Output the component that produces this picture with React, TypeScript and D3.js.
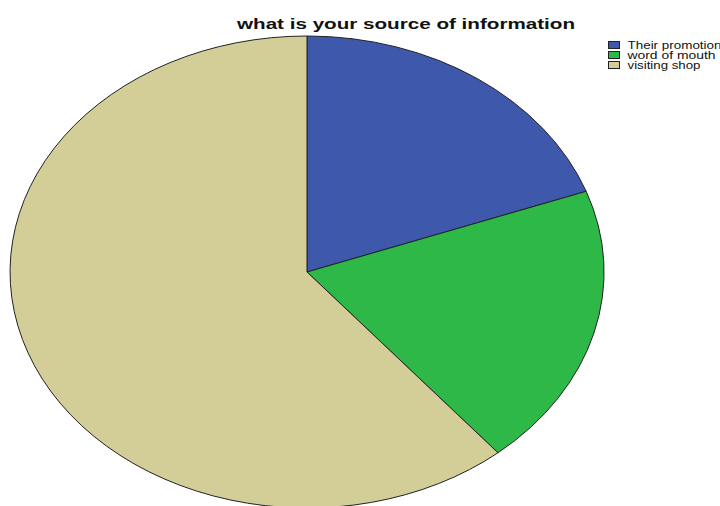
import React from "react";
import * as d3 from "d3";

const categories = ["Their promotion", "word of mouth", "visiting shop"];
const values = [7, 7, 22];
const colors = ["#3E58AC", "#2EB848", "#D3CE97"];
const title = "what is your source of information";

export default function App() {
  const W = 720, H = 506;
  const cx = 307, cy = 272, rx = 297, ry = 236;
  const pie = d3.pie<number>().sort(null).value((d) => d).startAngle(0).endAngle(2 * Math.PI);
  const arcs = pie(values);
  const arc = d3.arc<d3.PieArcDatum<number>>().innerRadius(0).outerRadius(1);
  const legendWidths = [94, 88, 73];
  return (
    <svg width={W} height={H} style={{ position: "absolute", left: 0, top: 0, background: "#fff" }}>
      <g transform={`translate(${cx},${cy}) scale(${rx},${ry})`}>
        {arcs.map((a, i) => (
          <path
            key={i}
            d={arc(a) || ""}
            fill={colors[i]}
            stroke="#222"
            strokeWidth={1}
            vectorEffect="non-scaling-stroke"
            strokeLinejoin="round"
          />
        ))}
      </g>
      <text
        x={237}
        y={29}
        fontFamily="Liberation Sans, Arial, sans-serif"
        fontWeight="bold"
        fontSize={15}
        textLength={338}
        lengthAdjust="spacingAndGlyphs"
        fill="#111"
      >
        {title}
      </text>
      {categories.map((c, i) => (
        <g key={c} transform={`translate(608.5,${41.5 + i * 10})`}>
          <rect width={11} height={7} fill={colors[i]} stroke="#222" strokeWidth={1} />
          <text
            x={19}
            y={7.5}
            fontFamily="Liberation Sans, Arial, sans-serif"
            fontSize={10}
            textLength={legendWidths[i]}
            lengthAdjust="spacingAndGlyphs"
            fill="#111"
          >
            {c}
          </text>
        </g>
      ))}
    </svg>
  );
}
